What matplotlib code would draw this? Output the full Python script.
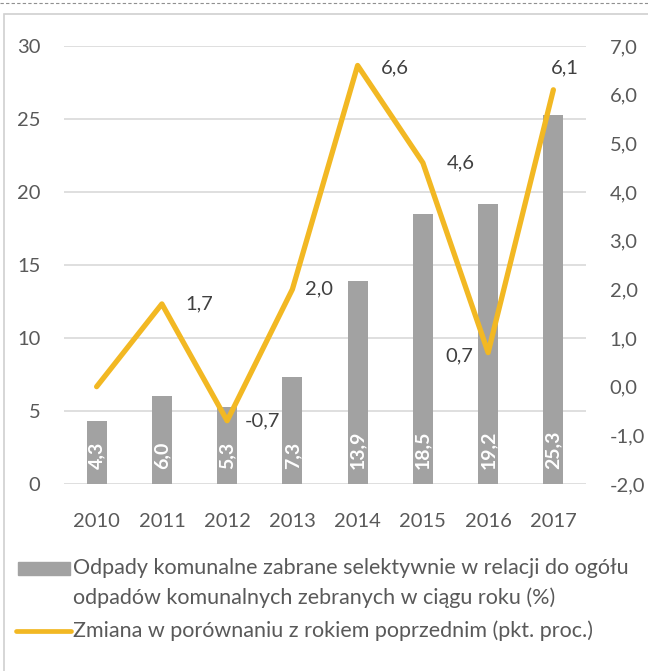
import matplotlib.pyplot as plt
from matplotlib.lines import Line2D
from matplotlib.patches import Rectangle
import numpy as np

years = ["2010", "2011", "2012", "2013", "2014", "2015", "2016", "2017"]
share = [4.3, 6.0, 5.3, 7.3, 13.9, 18.5, 19.2, 25.3]
change = [0.0, 1.7, -0.7, 2.0, 6.6, 4.6, 0.7, 6.1]
change_labels = [None, "1,7", "-0,7", "2,0", "6,6", "4,6", "0,7", "6,1"]
# label offsets (points) relative to each line point
label_offsets = [None, (17, 0), (13, 0), (9, 0), (17, -2), (17, 0), (-11, -2), (-2, 16)]
label_ha = [None, "left", "left", "left", "left", "left", "right", "left"]

legend_labels = ["Odpady komunalne zabrane selektywnie w relacji do ogółu",
                 "odpadów komunalnych zebranych w ciągu roku (%)",
                 "Zmiana w porównaniu z rokiem poprzednim (pkt. proc.)"]

bar_color = "#a2a2a2"
line_color = "#f2b823"
tick_color = "#595959"
label_color = "#404040"
plt.rcParams["font.family"] = ["Lato", "DejaVu Sans"]

W, H = 648, 671
fig = plt.figure(figsize=(W / 100, H / 100), dpi=100)
ax = fig.add_axes([64 / W, 1 - 484 / H, (586 - 64) / W, (484 - 46) / H])
ax2 = ax.twinx()

x = np.arange(len(years))
ax.bar(x, share, width=0.31, color=bar_color, zorder=2)
for xi, v in zip(x, share):
    ax.text(xi, 1.05, f"{v:.1f}".replace(".", ","), rotation=90, ha="center",
            va="bottom", color="white", fontsize=14, fontweight="bold", zorder=3)

ax.set_ylim(0, 30)
ax.set_yticks(range(0, 31, 5))
ax.set_xlim(-0.5, len(years) - 0.5)
ax.set_xticks(x, years)
ax.yaxis.grid(True, color="#d9d9d9", linewidth=1.2, zorder=0)
ax.set_axisbelow(True)
for s in list(ax.spines.values()) + list(ax2.spines.values()):
    s.set_visible(False)
ax.tick_params(axis="both", length=0, labelsize=14.5, colors=tick_color)
ax.tick_params(axis="y", pad=17)
ax.tick_params(axis="x", pad=21)

ax2.plot(x, change, color=line_color, linewidth=3.8, zorder=4,
         solid_capstyle="round")
ax2.set_ylim(-2, 7)
ticks = np.arange(-2, 7.1, 1)
ax2.set_yticks(ticks, [f"{t:.1f}".replace(".", ",") for t in ticks])
ax2.tick_params(axis="y", length=0, labelsize=14.5, colors=tick_color, pad=17)

for xi, v, lab, off, ha in zip(x, change, change_labels, label_offsets, label_ha):
    if lab is None:
        continue
    ax2.annotate(lab, (xi, v), xytext=off, textcoords="offset points",
                 ha=ha, va="center", fontsize=14.5, color=label_color)

# legend below the plot
fig.add_artist(Rectangle((18 / W, 1 - 575 / H), 52 / W, 13 / H,
                         transform=fig.transFigure, color=bar_color))
fig.add_artist(Line2D([16 / W, 71 / W], [1 - 631 / H] * 2, transform=fig.transFigure,
                      color=line_color, linewidth=3.4, solid_capstyle="round"))
for txt, ty in zip(legend_labels, [568, 598, 631]):
    fig.text(73 / W, 1 - ty / H, txt, ha="left", va="center",
             fontsize=15.5, color=tick_color)

# outer frame and dashed top line
fig.add_artist(Rectangle((4 / W, -0.1), 1.2, 1 - 14 / H + 0.1, transform=fig.transFigure,
                         fill=False, edgecolor="#d0d0d0", linewidth=1.2))
fig.add_artist(Line2D([0, 1], [1 - 3 / H] * 2, transform=fig.transFigure,
                      color="#909090", linewidth=0.8, linestyle=(0, (3, 2))))

fig.savefig("out.png", dpi=100)
